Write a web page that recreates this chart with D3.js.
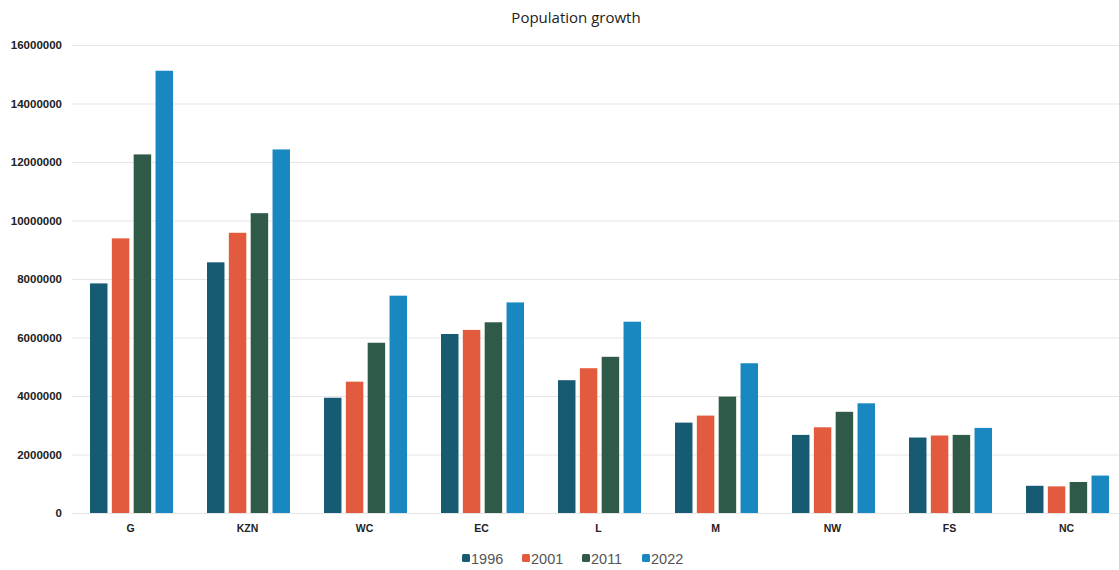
<!DOCTYPE html>
<html>
<head>
<meta charset="utf-8">
<script src="https://cdn.jsdelivr.net/npm/d3@7"></script>
<style>
  html, body { margin: 0; padding: 0; background: #fff; }
  svg { display: block; }
</style>
</head>
<body>
<svg id="chart" width="1119" height="570"></svg>
<script>
// Provinces (abbreviated) and census years
const provinces = ["G", "KZN", "WC", "EC", "L", "M", "NW", "FS", "NC"];
const years = ["1996", "2001", "2011", "2022"];

// Population per province for each census year
const pop1996 = [7850000, 8570000, 3940000, 6120000, 4540000, 3090000, 2670000, 2580000, 930000];
const pop2001 = [9390000, 9580000, 4490000, 6260000, 4950000, 3330000, 2930000, 2650000, 910000];
const pop2011 = [12260000, 10250000, 5820000, 6520000, 5340000, 3980000, 3460000, 2670000, 1060000];
const pop2022 = [15120000, 12430000, 7430000, 7200000, 6540000, 5120000, 3750000, 2910000, 1280000];

const yTicks = [0, 2000000, 4000000, 6000000, 8000000, 10000000, 12000000, 14000000, 16000000];
const seriesColors = ["#175b72", "#e35b3e", "#2e5a47", "#1a88c0"];

const series = [pop1996, pop2001, pop2011, pop2022];
const rows = provinces.map((p, i) => ({ province: p, values: series.map(s => s[i]) }));

const svg = d3.select("#chart");
const margin = { left: 72, right: -6, top: 45, bottom: 57 };
const width = 1119, height = 570;

const x = d3.scaleBand().domain(provinces).range([margin.left, width - margin.right]).paddingInner(0).paddingOuter(0);
const xInner = d3.scaleBand().domain(years).range([18, 101]).paddingInner(0.2);
const y = d3.scaleLinear().domain([0, 16000000]).range([height - margin.bottom, margin.top]);

// Title
svg.append("text")
  .attr("x", 576).attr("y", 23)
  .attr("text-anchor", "middle")
  .attr("font-family", "Open Sans, Noto Sans, sans-serif")
  .attr("font-size", 15)
  .attr("font-weight", 500)
  .attr("fill", "#222")
  .text("Population growth");

// Horizontal gridlines and value labels
const yAxis = d3.axisLeft(y).tickValues(yTicks).tickSize(-(width - margin.left)).tickFormat(d3.format("d"));
const gy = svg.append("g").attr("transform", `translate(${margin.left},0)`).call(yAxis);
gy.select(".domain").remove();
gy.selectAll(".tick line").attr("stroke", "#e6e6e6").attr("stroke-width", 1);
gy.selectAll(".tick text")
  .attr("x", -10)
  .attr("font-family", "Liberation Sans, Arial, sans-serif")
  .attr("font-size", 11.5)
  .attr("font-weight", "bold")
  .attr("fill", "#222");

// Category axis labels
const xAxis = d3.axisBottom(x).tickSize(0).tickPadding(12);
const gx = svg.append("g").attr("transform", `translate(0,${y(0)})`).call(xAxis);
gx.select(".domain").remove();
gx.selectAll(".tick text")
  .attr("font-family", "Liberation Sans, Arial, sans-serif")
  .attr("font-size", 10.5)
  .attr("font-weight", "bold")
  .attr("fill", "#222");

// Bars
const groups = svg.append("g").selectAll("g").data(rows).join("g")
  .attr("transform", d => `translate(${x(d.province)},0)`);
groups.selectAll("rect")
  .data(d => d.values.map((v, k) => ({ year: years[k], value: v, k })))
  .join("rect")
  .attr("x", d => xInner(d.year))
  .attr("y", d => y(d.value))
  .attr("width", xInner.bandwidth())
  .attr("height", d => y(0) - y(d.value))
  .attr("fill", d => seriesColors[d.k]);

// Legend
const legendX = [462, 522, 582, 642];
const legend = svg.append("g").selectAll("g").data(years).join("g")
  .attr("transform", (d, i) => `translate(${legendX[i]},558)`);
legend.append("rect")
  .attr("x", 0).attr("y", -4).attr("width", 8).attr("height", 8).attr("rx", 1.5)
  .attr("fill", (d, i) => seriesColors[i]);
legend.append("text")
  .attr("x", 9).attr("y", 5.5)
  .attr("font-family", "Liberation Sans, Arial, sans-serif")
  .attr("font-size", 14.5)
  .attr("fill", "#555")
  .text(d => d);
</script>
</body>
</html>
